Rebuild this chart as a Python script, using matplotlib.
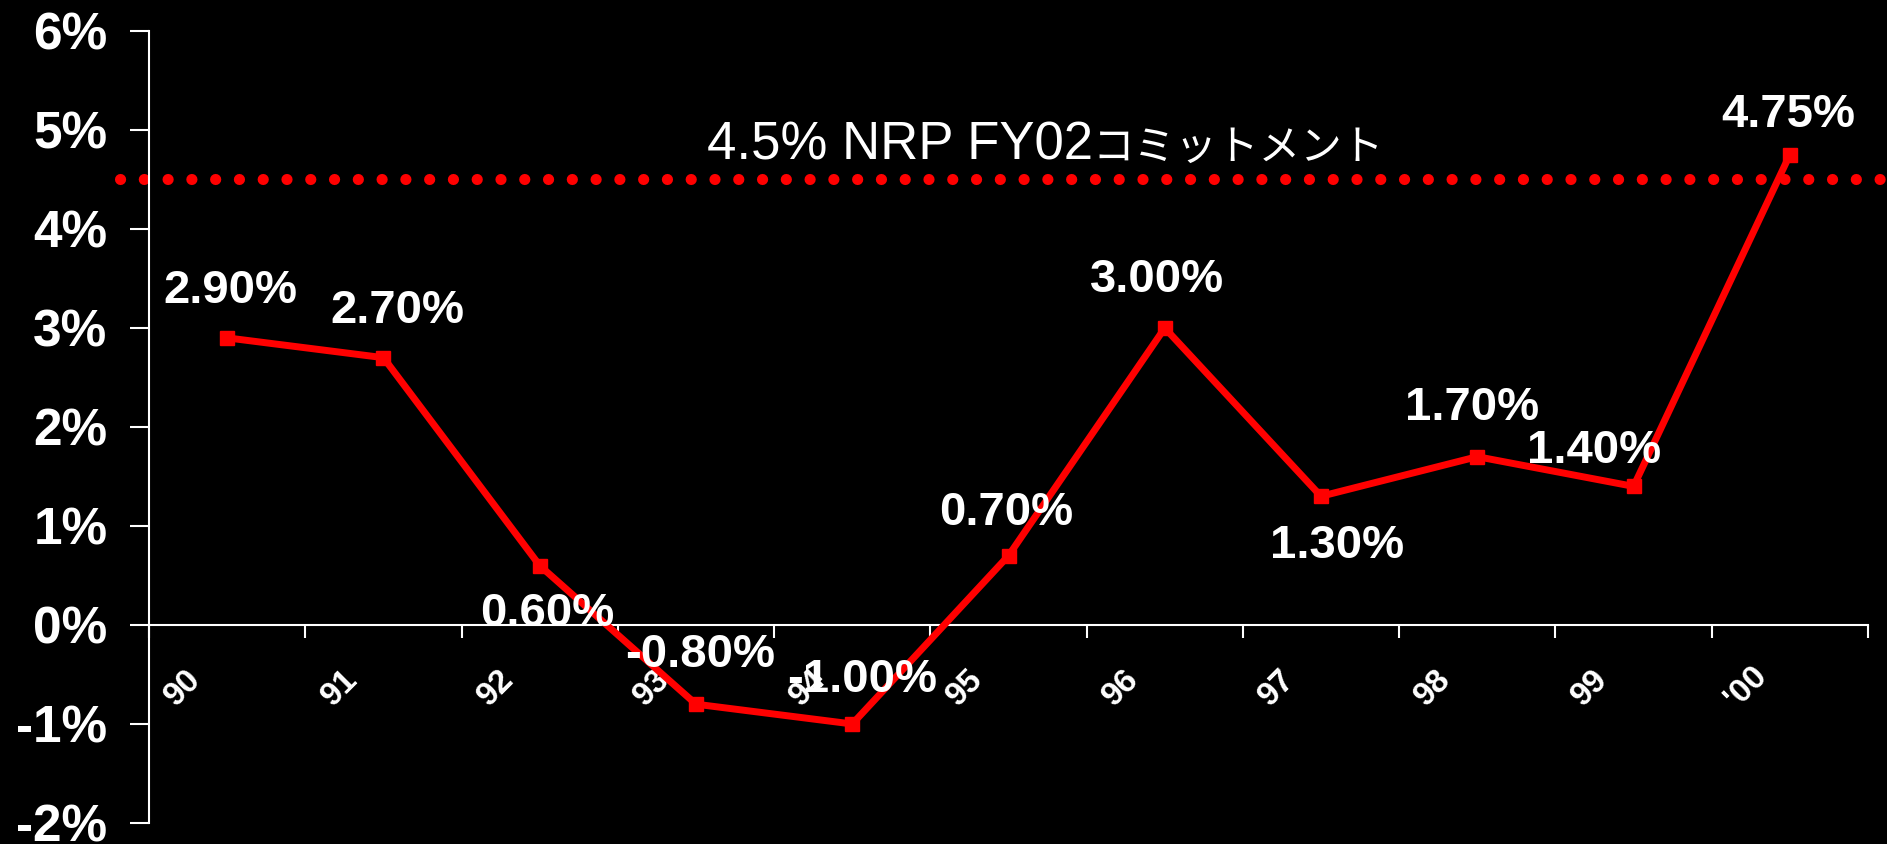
import matplotlib
matplotlib.use("Agg")
import matplotlib.pyplot as plt
from matplotlib.transforms import ScaledTranslation

plt.rcParams["font.family"] = ["Liberation Sans", "Noto Sans CJK JP"]

# data
years = ["90", "91", "92", "93", "94", "95", "96", "97", "98", "99", "'00"]
growth = [2.90, 2.70, 0.60, -0.80, -1.00, 0.70, 3.00, 1.30, 1.70, 1.40, 4.75]
value_labels = ["2.90%", "2.70%", "0.60%", "-0.80%", "-1.00%", "0.70%",
                "3.00%", "1.30%", "1.70%", "1.40%", "4.75%"]
y_ticks = [-2, -1, 0, 1, 2, 3, 4, 5, 6]
y_labels = ["-2%", "-1%", "0%", "1%", "2%", "3%", "4%", "5%", "6%"]
target = 4.5
target_label_latin = "4.5% NRP FY02"
target_label_jp = "コミットメント"

# label offsets (pixels) from each point
label_offsets = [(3, 47), (14, 47), (8, -48), (4, 49), (10, 44), (-2, 43),
                 (-8, 48), (16, -50), (-5, 49), (-39, 35), (-2, 40)]

RED = "#FF0000"

fig = plt.figure(figsize=(18.87, 8.44), dpi=100, facecolor="black")
ax = fig.add_axes([0.079, 0.0249, 0.9109, 0.9384], facecolor="black")

x = list(range(len(years)))
ax.plot(x, growth, color=RED, lw=5, marker="s", ms=10, zorder=3)

# target commitment line (runs past the axes on both sides)
ax.plot([-0.017, 1.02], [target, target], transform=ax.get_yaxis_transform(),
        color=RED, lw=8, linestyle=(0, (0.01, 2.13)), dash_capstyle="round",
        clip_on=False, zorder=2)
ax.text(0.549, 4.70, target_label_latin, transform=ax.get_yaxis_transform(),
        color="white", fontsize=38, ha="right", va="baseline")
ax.text(0.549, 4.70, target_label_jp, transform=ax.get_yaxis_transform(),
        color="white", fontsize=30, ha="left", va="baseline")

for xi, yi, lab, (dx, dy) in zip(x, growth, value_labels, label_offsets):
    ax.annotate(lab, (xi, yi), xytext=(dx, dy), textcoords="offset pixels",
                color="white", fontsize=34, fontweight="bold",
                ha="center", va="center", zorder=4)

ax.set_xlim(-0.5, len(years) - 0.5)
ax.set_ylim(-2, 6)

for s in ["top", "right"]:
    ax.spines[s].set_visible(False)
ax.spines["bottom"].set_position(("data", 0))
for s in ["left", "bottom"]:
    ax.spines[s].set_color("white")
    ax.spines[s].set_linewidth(1.5)

ax.set_yticks(y_ticks)
ax.set_yticklabels(y_labels, color="white", fontsize=37, fontweight="bold")
ax.tick_params(axis="y", colors="white", length=14, width=1.5, pad=16,
               labelcolor="white")

ax.set_xticks([i - 0.5 for i in range(len(years) + 1)])
ax.set_xticklabels([])
ax.tick_params(axis="x", which="major", colors="white", length=9, width=1.5)
ax.set_xticks(x, minor=True)
ax.set_xticklabels(years, minor=True, rotation=45, ha="center", va="center",
                   color="white", fontsize=24, fontweight="bold")
ax.tick_params(axis="x", which="minor", length=0, pad=45)
shift = ScaledTranslation(-44 / 100, 0, fig.dpi_scale_trans)
for t in ax.get_xticklabels(minor=True):
    t.set_transform(t.get_transform() + shift)

fig.savefig("out.png", dpi=100, facecolor="black")
